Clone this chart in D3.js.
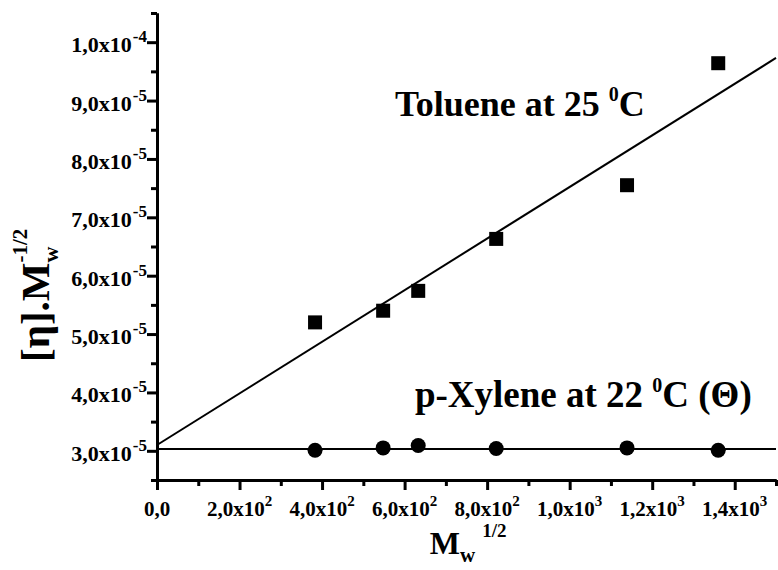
<!DOCTYPE html>
<html>
<head>
<meta charset="utf-8">
<script src="https://cdn.jsdelivr.net/npm/d3@7"></script>
<style>
  body { margin: 0; background: #fff; }
  svg { display: block; }
  text { font-family: "Liberation Serif", "Times New Roman", serif; font-weight: bold; fill: #000; }
</style>
</head>
<body>
<svg id="chart" width="778" height="570"></svg>
<script>
// values
var sqrtMw = [383, 548, 633, 822, 1139, 1360];
var tolueneVals = [5.20e-5, 5.40e-5, 5.74e-5, 6.63e-5, 7.55e-5, 9.64e-5];
var xyleneVals = [3.01e-5, 3.05e-5, 3.09e-5, 3.04e-5, 3.05e-5, 3.01e-5];

// fitted lines, ends at x = 0 and x = 1500
var fitX = [0, 1500];
var tolueneFit = [3.10e-5, 9.73e-5];
var xyleneFit = [3.03e-5, 3.03e-5];

var xMajor = [0, 200, 400, 600, 800, 1000, 1200, 1400];
var xMinor = [100, 300, 500, 700, 900, 1100, 1300, 1500];
var xTickMant = ["0,0", "2,0x10", "4,0x10", "6,0x10", "8,0x10", "1,0x10", "1,2x10", "1,4x10"];
var xTickExp = ["", "2", "2", "2", "2", "3", "3", "3"];

var yMajor = [3e-5, 4e-5, 5e-5, 6e-5, 7e-5, 8e-5, 9e-5, 1e-4];
var yMinor = [2.5e-5, 3.5e-5, 4.5e-5, 5.5e-5, 6.5e-5, 7.5e-5, 8.5e-5, 9.5e-5, 1.05e-4];
var yTickMant = ["3,0x10", "4,0x10", "5,0x10", "6,0x10", "7,0x10", "8,0x10", "9,0x10", "1,0x10"];
var yTickExp = ["-5", "-5", "-5", "-5", "-5", "-5", "-5", "-4"];

// annotation anchors (data units)
var tolLabelPos = [577, 8.73e-5];
var xylLabelPos = [625, 3.755e-5];

var margin = {top: 13, right: 2, bottom: 90, left: 157};
var width = 778 - margin.left - margin.right;
var height = 570 - margin.top - margin.bottom;

var svg = d3.select('#chart');
var g = svg.append('g').attr('transform', 'translate(' + margin.left + ',' + margin.top + ')');

var xScale = d3.scaleLinear().domain([0, 1500]).range([0, width]);
var yScale = d3.scaleLinear().domain([2.5e-5, 1.05e-4]).range([height, 0]);

//minor ticks first, then major ticks + axis line
g.append('g').attr('class', 'axis')
  .attr('transform', 'translate(0,' + height + ')')
  .call(d3.axisBottom(xScale).tickValues(xMinor).tickSize(6).tickSizeOuter(0).tickFormat(''));
g.append('g').attr('class', 'axis')
  .attr('transform', 'translate(0,' + height + ')')
  .call(d3.axisBottom(xScale).tickValues(xMajor).tickSize(10).tickSizeOuter(0).tickFormat(''));
g.append('g').attr('class', 'axis')
  .call(d3.axisLeft(yScale).tickValues(yMinor).tickSize(6).tickSizeOuter(0).tickFormat(''));
g.append('g').attr('class', 'axis')
  .call(d3.axisLeft(yScale).tickValues(yMajor).tickSize(10).tickSizeOuter(0).tickFormat(''));

g.selectAll('.axis path').attr('stroke', '#000').attr('stroke-width', 3);
g.selectAll('.axis line').attr('stroke', '#000').attr('stroke-width', 3);

// tick labels with superscript exponents
var xl = g.append('g').selectAll('text')
  .data(xMajor)
  .enter()
  .append('text')
  .attr('x', function(d) { return xScale(d); })
  .attr('y', height + 36)
  .attr('text-anchor', 'middle')
  .style('font-size', '21px');
xl.append('tspan').text(function(d, i) { return xTickMant[i]; });
xl.append('tspan').attr('dy', -10).style('font-size', '15px').text(function(d, i) { return xTickExp[i]; });

var yl = g.append('g').selectAll('text')
  .data(yMajor)
  .enter()
  .append('text')
  .attr('x', -10)
  .attr('y', function(d) { return yScale(d) + 10; })
  .attr('text-anchor', 'end')
  .style('font-size', '22px');
yl.append('tspan').text(function(d, i) { return yTickMant[i]; });
yl.append('tspan').attr('dy', -10).attr('dx', 1).style('font-size', '17px').text(function(d, i) { return yTickExp[i]; });

// fit lines
var line = d3.line()
  .x(function(d) { return xScale(d[0]); })
  .y(function(d) { return yScale(d[1]); });

g.append('path')
  .datum(fitX.map(function(x, i) { return [x, tolueneFit[i]]; }))
  .attr('d', line)
  .attr('fill', 'none')
  .attr('stroke', '#000')
  .attr('stroke-width', 2);

g.append('path')
  .datum(fitX.map(function(x, i) { return [x, xyleneFit[i]]; }))
  .attr('d', line)
  .attr('fill', 'none')
  .attr('stroke', '#000')
  .attr('stroke-width', 2);

// points
var sq = 14;
g.selectAll('rect.tol')
  .data(sqrtMw)
  .enter()
  .append('rect')
  .attr('class', 'tol')
  .attr('x', function(d) { return xScale(d) - sq / 2; })
  .attr('y', function(d, i) { return yScale(tolueneVals[i]) - sq / 2; })
  .attr('width', sq)
  .attr('height', sq)
  .attr('fill', '#000');

g.selectAll('circle.xyl')
  .data(sqrtMw)
  .enter()
  .append('circle')
  .attr('class', 'xyl')
  .attr('cx', function(d) { return xScale(d); })
  .attr('cy', function(d, i) { return yScale(xyleneVals[i]); })
  .attr('r', 7.5)
  .attr('fill', '#000');

// series labels
var tol = g.append('text')
  .attr('x', xScale(tolLabelPos[0]))
  .attr('y', yScale(tolLabelPos[1]))
  .style('font-size', '36px');
tol.append('tspan').text('Toluene at 25 ');
tol.append('tspan').attr('dy', -15).style('font-size', '20px').text('0');
tol.append('tspan').attr('dy', 15).text('C');

var xyl = g.append('text')
  .attr('x', xScale(xylLabelPos[0]))
  .attr('y', yScale(xylLabelPos[1]))
  .style('font-size', '37px');
xyl.append('tspan').text('p-Xylene at 22 ');
xyl.append('tspan').attr('dy', -15).style('font-size', '20px').text('0');
xyl.append('tspan').attr('dy', 15).text('C (\u0398)');

// x axis title
var xt = g.append('text')
  .attr('x', xScale(661))
  .attr('y', height + 74);
xt.append('tspan').style('font-size', '32px').text('M');
xt.append('tspan').attr('dy', 8).style('font-size', '21px').text('w');
xt.append('tspan').attr('dx', 7).attr('dy', -25).style('font-size', '19px').text('1/2');

// y axis title, rotated
var yt = svg.append('g').attr('transform', 'translate(49,362) rotate(-90)');
var yMain = yt.append('text').style('font-size', '41px').text('[\u03b7].M');
var mEnd = yMain.node().getComputedTextLength();
yt.append('text').attr('x', mEnd).attr('y', 9).style('font-size', '22px').text('w');
yt.append('text').attr('x', mEnd).attr('y', -22).style('font-size', '21px').text('-1/2');
</script>
</body>
</html>
